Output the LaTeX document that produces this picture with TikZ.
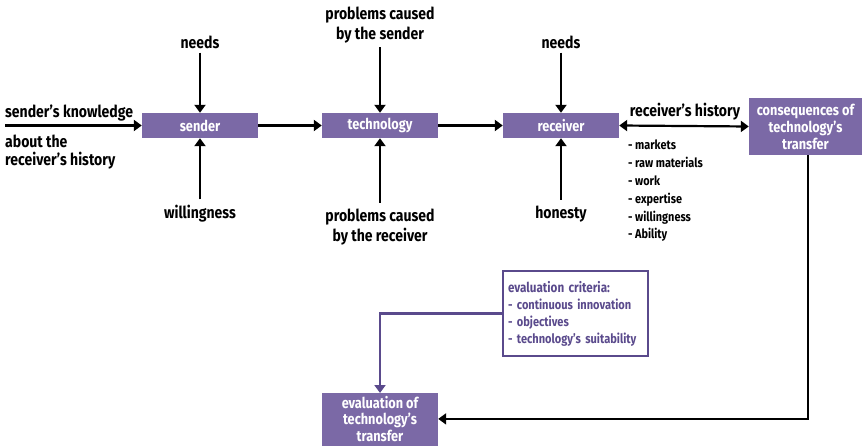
\documentclass[tikz,border=0pt]{standalone}
\usepackage{fontspec}
\setmainfont{Fira Sans}[FakeStretch=0.85,BoldFont={Fira Sans Bold},BoldFeatures={FakeStretch=0.85}]
\usetikzlibrary{arrows.meta}
\definecolor{boxpurple}{HTML}{7B69A6}
\definecolor{textpurple}{HTML}{5A4A8C}
\begin{document}
\begin{tikzpicture}[x=1pt,y=-1pt,
  font=\bfseries\fontsize{16.5}{20}\selectfont,
  tip/.style={-{Triangle[length=8pt,width=11pt]}},
  flow/.style={line width=2.2pt,tip},
  pbox/.style={fill=boxpurple,text=white,inner sep=0pt,align=center,
    font=\bfseries\fontsize{15}{17}\selectfont},
  lbl/.style={inner sep=0pt,align=center}]
\useasboundingbox (0,0) rectangle (865,446);
% main chain
\node[pbox,minimum width=116pt,minimum height=25pt] (sender) at (200,125.5) {sender};
\node[pbox,minimum width=116pt,minimum height=25pt] (tech) at (380,125.5) {technology};
\node[pbox,minimum width=116pt,minimum height=25pt] (recv) at (561,125.5) {receiver};
\node[pbox,minimum width=113pt,minimum height=57pt] (cons) at (805.5,126.5) {consequences of\\technology’s\\transfer};
\node[pbox,minimum width=116pt,minimum height=56pt,anchor=north] (eval) at (380,393) {};
\node[pbox,fill=none,anchor=north,font=\bfseries\fontsize{15}{16.5}\selectfont] (evaltxt) at (380,396) {evaluation of\\technology’s\\transfer};
% inputs
\node[lbl] (needsA) at (200,42) {needs};
\node[lbl] (will) at (200,214) {willingness};
\node[lbl] (probS) at (380,25) {problems caused\\by the sender};
\node[lbl] (probR) at (380,227) {problems caused\\by the receiver};
\node[lbl] (needsB) at (561,42) {needs};
\node[lbl] (hon) at (561,214) {honesty};
\node[lbl,anchor=west] (know) at (5,113) {sender’s knowledge};
\node[lbl,anchor=north west,align=left,font=\bfseries\fontsize{16.5}{18}\selectfont] (about) at (5,135) {about the\\receiver’s history};
\coordinate (kstart) at (5,125.5);
\node[lbl] (rhist) at (685,112) {receiver’s history};
\node[lbl,anchor=north west,align=left,font=\bfseries\fontsize{12.8}{17.8}\selectfont] (list) at (628,140)
  {- markets\\- raw materials\\- work\\- expertise\\- willingness\\- Ability};
% evaluation criteria
\node[draw=textpurple,line width=2.2pt,text=textpurple,align=left,anchor=north west,
  minimum width=145pt,minimum height=85pt,inner sep=5pt,text width=135pt,
  font=\bfseries\fontsize{13}{17}\selectfont] (crit) at (502,270)
  {{\fontsize{13.7}{17}\selectfont evaluation criteria:}\\- continuous innovation\\- objectives\\- technology’s suitability};
% connectors
\draw[flow] (needsA.south) ++(0,4) -- (sender.north);
\draw[flow] (will.north) ++(0,-6) -- (sender.south);
\draw[flow] (probS.south) ++(0,4) -- (tech.north);
\draw[flow] (probR.north) ++(0,-6) -- (tech.south);
\draw[flow] (needsB.south) ++(0,4) -- (recv.north);
\draw[flow] (hon.north) ++(0,-6) -- (recv.south);
\draw[flow] (kstart) -- (sender.west);
\draw[flow] (sender.east) -- (tech.west);
\draw[flow] (tech.east) -- (recv.west);
\draw[line width=2.2pt,{Triangle[length=8pt,width=11pt]}-{Triangle[length=8pt,width=11pt]}] (recv.east) -- (cons.west);
\draw[flow] (cons.south) ++(2.5,0) coordinate (cd) -- (cd |- evaltxt.east) -- (eval.east |- evaltxt.east);
\draw[flow,draw=textpurple] (crit.west) -| (eval.north);
\end{tikzpicture}
\end{document}
